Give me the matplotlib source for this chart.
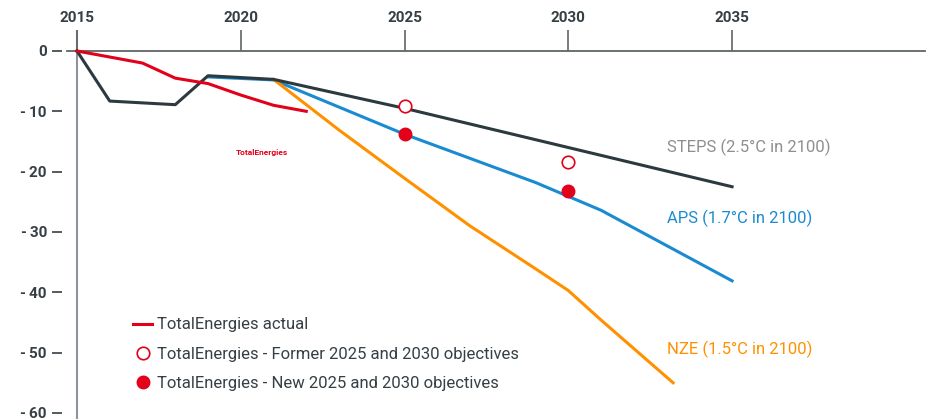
import matplotlib.pyplot as plt
from matplotlib.lines import Line2D

# TotalEnergies actual
actual_years = [2015, 2016, 2017, 2018, 2019, 2020, 2021, 2022]
actual_vals = [0, -1.0, -2.0, -4.5, -5.4, -7.3, -9.0, -10.0]

# IEA scenarios
steps_years = [2015, 2016, 2018, 2019, 2021, 2025, 2030, 2035]
steps_vals = [0, -8.3, -8.9, -4.1, -4.7, -9.5, -16.0, -22.5]

aps_years = [2019, 2021, 2025, 2029, 2031, 2035]
aps_vals = [-4.3, -4.8, -13.8, -21.8, -26.4, -38.1]

nze_years = [2021, 2023, 2025, 2027, 2029, 2030, 2031, 2033.2]
nze_vals = [-4.7, -13.1, -21.1, -29.0, -36.1, -39.7, -44.6, -55.0]

# objectives
obj_years = [2025, 2030]
former_obj = [-9.1, -18.4]
new_obj = [-13.8, -23.2]

xticks = [2015, 2020, 2025, 2030, 2035]
yticks = [0, -10, -20, -30, -40, -50, -60]
ytick_labels = ['0', '-\u200910', '-\u200920', '-\u200930', '-\u200940', '-\u200950', '-\u200960']

RED = '#e2001a'
DARK = '#2c3a3f'
BLUE = '#1a8bd0'
ORANGE = '#ff9100'
TXT = '#353f44'

plt.rcParams['font.family'] = ['Roboto', 'DejaVu Sans']

fig = plt.figure(figsize=(9.34, 4.19), dpi=100)
ax = fig.add_axes([67/934, 0, (925-67)/934, (419-30)/419])
ax.set_xlim(2014.695, 2040.89)
ax.set_ylim(-61.0, 3.48)

ax.axvline(2015, color='#8e9499', lw=1.5, zorder=1)

ax.plot(steps_years, steps_vals, color=DARK, lw=2.2, zorder=3)
ax.plot(aps_years, aps_vals, color=BLUE, lw=2.2, zorder=2)
ax.plot(nze_years, nze_vals, color=ORANGE, lw=2.2, zorder=2)
ax.plot(actual_years, actual_vals, color=RED, lw=2.2, zorder=4)
ax.plot(obj_years, former_obj, 'o', ms=9, mfc='white', mec=RED, mew=1.2, zorder=5)
ax.plot(obj_years, new_obj, 'o', ms=9, color=RED, zorder=5)

# axes styling
for s in ['bottom', 'right']:
    ax.spines[s].set_visible(False)
ax.spines['top'].set_position(('data', 0))
ax.spines['top'].set_color('#5f6568')
ax.spines['top'].set_linewidth(1.3)
ax.spines['left'].set_position(('outward', 3.6))
ax.spines['left'].set_color('none')

ax.xaxis.tick_top()
ax.set_xticks(xticks)
ax.set_xticklabels([str(x) for x in xticks])
ax.tick_params(axis='x', direction='out', length=15, width=1.2, color='#5f6568',
               pad=4, labelsize=11, labelcolor=TXT)
ax.set_yticks(yticks)
ax.set_yticklabels(ytick_labels)
ax.tick_params(axis='y', direction='out', length=7.2, width=1.2, color=TXT,
               pad=3.6, labelsize=11, labelcolor=TXT)
for lbl in ax.get_xticklabels() + ax.get_yticklabels():
    lbl.set_fontweight('bold')

# scenario labels
ax.text(2033.0, -15.9, 'STEPS (2.5°C in 2100)', color='#8f8f8f', fontsize=12, va='center')
ax.text(2033.0, -27.8, 'APS (1.7°C in 2100)', color=BLUE, fontsize=12, va='center')
ax.text(2033.0, -49.4, 'NZE (1.5°C in 2100)', color=ORANGE, fontsize=12, va='center')

# logo stand-in (brand name)
ax.text(2020.65, -16.9, 'TotalEnergies', color=RED, fontsize=6, fontweight='bold',
        ha='center', va='center')

handles = [
    Line2D([], [], color=RED, lw=2.2),
    Line2D([], [], ls='none', marker='o', ms=9, mfc='white', mec=RED, mew=1.2),
    Line2D([], [], ls='none', marker='o', ms=9, color=RED),
]
labels = ['TotalEnergies actual',
          'TotalEnergies - Former 2025 and 2030 objectives',
          'TotalEnergies - New 2025 and 2030 objectives']
leg = ax.legend(handles, labels, loc='upper left', bbox_to_anchor=(125/934, 1 - 309/419),
                bbox_transform=fig.transFigure, frameon=False, fontsize=12,
                handlelength=1.1, handletextpad=0.3, labelspacing=0.85, borderpad=0)
for t in leg.get_texts():
    t.set_color(TXT)

fig.savefig('out.png', dpi=100)
